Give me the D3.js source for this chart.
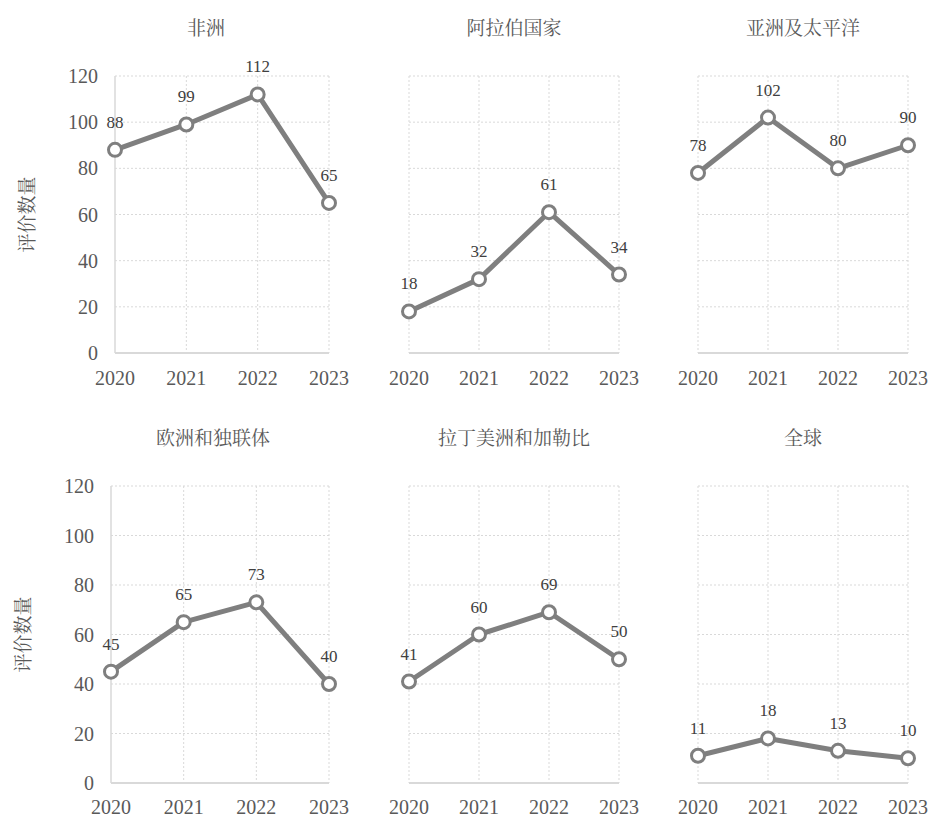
<!DOCTYPE html>
<html>
<head>
<meta charset="utf-8">
<script src="https://cdn.jsdelivr.net/npm/d3@7"></script>
<style>
  body { margin: 0; background: #fff; }
</style>
</head>
<body>
<div id="chart"></div>
<script>
  // data
  var years = ["2020", "2021", "2022", "2023"];
  var regions = ["非洲", "阿拉伯国家", "亚洲及太平洋", "欧洲和独联体", "拉丁美洲和加勒比", "全球"];
  var africa = [88, 99, 112, 65];
  var arabStates = [18, 32, 61, 34];
  var asiaPacific = [78, 102, 80, 90];
  var europeCis = [45, 65, 73, 40];
  var latinAmerica = [41, 60, 69, 50];
  var globalValues = [11, 18, 13, 10];
  var yTicks = [0, 20, 40, 60, 80, 100, 120];
  var yLabel = "评价数量";

  var series = [africa, arabStates, asiaPacific, europeCis, latinAmerica, globalValues];

  var width = 929,
      height = 817;

  var serifFont = "Liberation Serif";
  var cjkFont = "Noto Serif CJK SC";

  // panel boxes: [left, right, top, bottom, title x, show y axis]
  var panels = [
    [115, 329, 76, 353, 206, true],
    [409, 619, 76, 353, 514, false],
    [698, 908, 76, 353, 803, false],
    [111, 329, 486, 783, 213, true],
    [409, 619, 486, 783, 514, false],
    [698, 908, 486, 783, 803, false]
  ];

  var svg = d3.select('#chart')
    .append('svg')
      .attr('width', width)
      .attr('height', height);

  panels.forEach(function(p, i) {
    var x = d3.scalePoint().domain(years).range([p[0], p[1]]);
    var y = d3.scaleLinear().domain([0, 120]).range([p[3], p[2]]);
    var values = series[i];
    var g = svg.append('g');

    // horizontal grid
    g.selectAll('.hgrid')
      .data(yTicks.slice(1))
      .enter()
      .append('line')
      .attr('x1', p[0]).attr('x2', p[1])
      .attr('y1', function(d) { return y(d); })
      .attr('y2', function(d) { return y(d); })
      .style('stroke', '#d9d9d9')
      .style('stroke-dasharray', '2,2');

    // vertical grid
    g.selectAll('.vgrid')
      .data(p[5] ? years.slice(1) : years)
      .enter()
      .append('line')
      .attr('x1', function(d) { return x(d); })
      .attr('x2', function(d) { return x(d); })
      .attr('y1', p[2]).attr('y2', p[3])
      .style('stroke', '#d9d9d9')
      .style('stroke-dasharray', '2,2');

    // x axis line
    g.append('line')
      .attr('x1', p[0]).attr('x2', p[1])
      .attr('y1', p[3]).attr('y2', p[3])
      .style('stroke', '#d9d9d9')
      .style('stroke-width', 2);

    if (p[5]) {
      g.append('line')
        .attr('x1', p[0]).attr('x2', p[0])
        .attr('y1', p[2]).attr('y2', p[3])
        .style('stroke', '#d9d9d9')
        .style('stroke-width', 1.5);

      g.selectAll('.ytick')
        .data(yTicks)
        .enter()
        .append('text')
        .attr('x', p[0] - 17)
        .attr('y', function(d) { return y(d); })
        .attr('dy', '0.35em')
        .attr('text-anchor', 'end')
        .style('font-family', serifFont)
        .style('font-size', '20px')
        .style('fill', '#595959')
        .text(function(d) { return d; });

      g.append('text')
        .attr('transform', 'translate(' + (p[0] - 88) + ',' + ((p[2] + p[3]) / 2) + ') rotate(-90)')
        .attr('text-anchor', 'middle')
        .attr('dy', '0.35em')
        .style('font-family', cjkFont)
        .style('font-size', '19px')
        .style('fill', '#595959')
        .text(yLabel);
    }

    // x tick labels
    g.selectAll('.xtick')
      .data(years)
      .enter()
      .append('text')
      .attr('x', function(d) { return x(d); })
      .attr('y', Math.min(p[3] + 32, height - 3))
      .attr('text-anchor', 'middle')
      .style('font-family', serifFont)
      .style('font-size', '20px')
      .style('fill', '#595959')
      .text(function(d) { return d; });

    // title
    g.append('text')
      .attr('x', p[4])
      .attr('y', p[2] - 41)
      .attr('text-anchor', 'middle')
      .style('font-family', cjkFont)
      .style('font-size', '19px')
      .style('fill', '#595959')
      .text(regions[i]);

    // line
    var line = d3.line()
      .x(function(d, j) { return x(years[j]); })
      .y(function(d) { return y(d); });

    g.append('path')
      .datum(values)
      .attr('d', line)
      .style('fill', 'none')
      .style('stroke', '#7f7f7f')
      .style('stroke-width', 5)
      .style('stroke-linejoin', 'round');

    g.selectAll('.marker')
      .data(values)
      .enter()
      .append('circle')
      .attr('cx', function(d, j) { return x(years[j]); })
      .attr('cy', function(d) { return y(d); })
      .attr('r', 6.5)
      .style('fill', '#fff')
      .style('stroke', '#7f7f7f')
      .style('stroke-width', 3);

    g.selectAll('.label')
      .data(values)
      .enter()
      .append('text')
      .attr('x', function(d, j) { return x(years[j]); })
      .attr('y', function(d) { return y(d) - 22; })
      .attr('text-anchor', 'middle')
      .style('font-family', serifFont)
      .style('font-size', '17px')
      .style('fill', '#404040')
      .text(function(d) { return d; });
  });
</script>
</body>
</html>
